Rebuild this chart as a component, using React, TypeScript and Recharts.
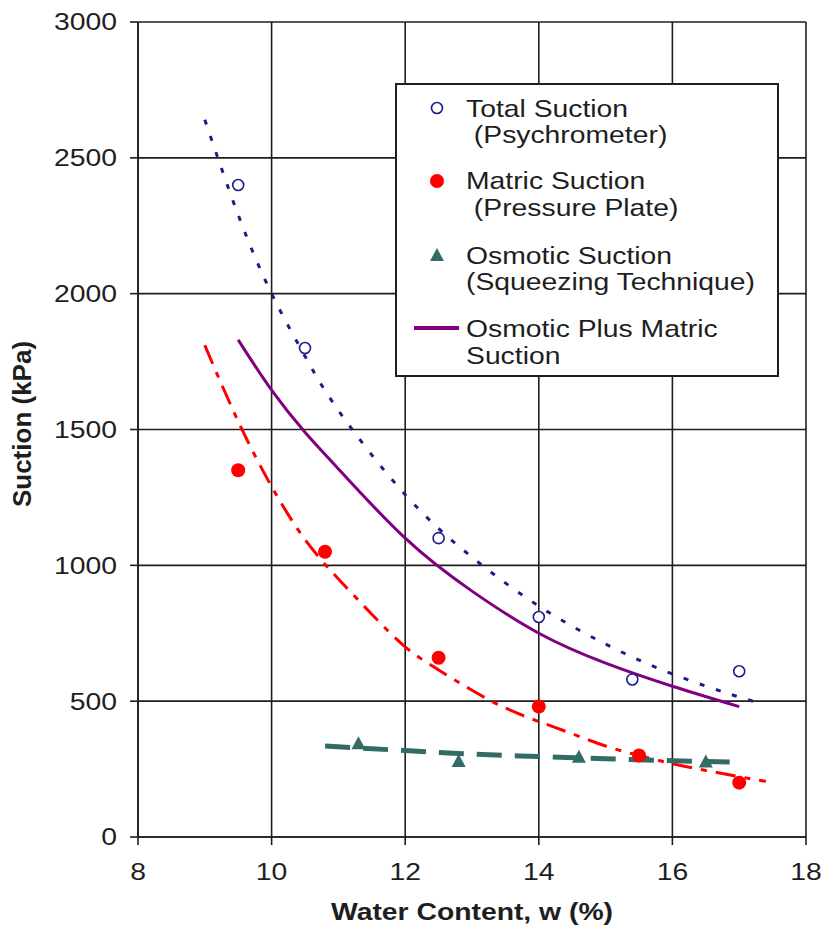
import { CartesianGrid, ComposedChart, Line, Scatter, XAxis, YAxis } from "recharts";

// measured values, water content (%) vs suction (kPa)
const totalW = [9.5, 10.5, 12.5, 14, 15.4, 17];
const totalKPa = [2400, 1800, 1100, 810, 580, 610];

const matricW = [9.5, 10.8, 12.5, 14, 15.5, 17];
const matricKPa = [1350, 1050, 660, 480, 300, 200];

const osmoticW = [11.3, 12.8, 14.6, 16.5];
const osmoticKPa = [345, 280, 295, 278];

// trend curves
const totalFitW = [9.0, 9.5, 10, 10.5, 11, 12, 13, 14, 15, 16, 17, 17.3];
const totalFitKPa = [2640, 2290, 2000, 1770, 1570, 1260, 1030, 850, 710, 600, 515, 495];

const matricFitW = [9.0, 9.5, 10, 10.5, 11, 11.5, 12, 12.5, 13, 13.5, 14, 14.5, 15, 15.5, 16, 16.5, 17, 17.4];
const matricFitKPa = [1810, 1530, 1290, 1095, 950, 820, 700, 615, 540, 475, 425, 380, 335, 300, 270, 245, 222, 205];

const osmoticFitW = [10.8, 12, 13, 14, 15, 16, 16.9];
const osmoticFitKPa = [335, 318, 305, 296, 288, 281, 276];

const combinedW = [9.5, 10, 10.5, 11, 12, 13, 14, 15, 16, 17];
const combinedKPa = [1830, 1645, 1490, 1355, 1100, 905, 750, 640, 555, 480];

const X_TICKS = [8, 10, 12, 14, 16, 18];
const Y_TICKS = [0, 500, 1000, 1500, 2000, 2500, 3000];

const NAVY = "#1c1c8a";
const RED = "#ff0000";
const TEAL = "#336b66";
const PURPLE = "#800080";
const INK = "#1e1e1e";
const FONT = "'Liberation Sans', Arial, sans-serif";
const SX = 1.18; // the source figure's text runs wide

const zip = (xs: number[], ys: number[]) => xs.map((x, i) => ({ x, y: ys[i] }));

function XTick({ x, y, payload }: any) {
  return (
    <text transform={`translate(${x},${y}) scale(${SX},1)`} textAnchor="middle" dy="0.71em" fontSize={24} fontFamily={FONT} fill={INK}>
      {payload.value}
    </text>
  );
}

function YTick({ x, y, payload }: any) {
  return (
    <text transform={`translate(${x},${y}) scale(${SX},1)`} textAnchor="end" dy="0.35em" fontSize={24} fontFamily={FONT} fill={INK}>
      {payload.value}
    </text>
  );
}

function OpenCircle({ cx, cy }: any) {
  return <circle cx={cx} cy={cy} r={5.5} fill="#fff" stroke={NAVY} strokeWidth={1.6} />;
}

function RedDot({ cx, cy }: any) {
  return <circle cx={cx} cy={cy} r={7} fill={RED} />;
}

function Triangle({ cx, cy }: any) {
  return <polygon points={`${cx},${cy - 7} ${cx - 7},${cy + 6} ${cx + 7},${cy + 6}`} fill={TEAL} />;
}

function LegendText({ x, y, children }: { x: number; y: number; children: string }) {
  return (
    <text transform={`translate(${x},${y}) scale(${SX},1)`} fontSize={24} fontFamily={FONT} fill={INK} style={{ whiteSpace: "pre" }}>
      {children}
    </text>
  );
}

export default function App() {
  return (
    <div style={{ position: "absolute", left: 0, top: 0, width: 821, height: 927, background: "#fff" }}>
      <ComposedChart width={821} height={927} margin={{ top: 22, right: 15, left: 0, bottom: 0 }}>
        <CartesianGrid stroke={INK} strokeWidth={1.6} />
        <XAxis
          type="number"
          dataKey="x"
          domain={[8, 18]}
          ticks={X_TICKS}
          allowDataOverflow
          height={90}
          tickSize={8}
          tickMargin={18}
          stroke={INK}
          strokeWidth={1.6}
          tick={<XTick />}
          label={{
            content: () => (
              <text transform={`translate(472,920) scale(${SX},1)`} textAnchor="middle" fontSize={24} fontWeight="bold" fontFamily={FONT} fill={INK}>
                Water Content, w (%)
              </text>
            )
          }}
        />
        <YAxis
          type="number"
          dataKey="y"
          domain={[0, 3000]}
          ticks={Y_TICKS}
          allowDataOverflow
          width={138}
          tickSize={8}
          tickMargin={13}
          stroke={INK}
          strokeWidth={1.6}
          tick={<YTick />}
          label={{
            content: () => (
              <text transform="translate(31,424) rotate(-90)" textAnchor="middle" fontSize={26} fontWeight="bold" fontFamily={FONT} fill={INK}>
                Suction (kPa)
              </text>
            )
          }}
        />
        <Line data={zip(combinedW, combinedKPa)} dataKey="y" type="natural" stroke={PURPLE} strokeWidth={3} dot={false} isAnimationActive={false} />
        <Line data={zip(totalFitW, totalFitKPa)} dataKey="y" type="natural" stroke={NAVY} strokeWidth={3} strokeDasharray="5 12" dot={false} isAnimationActive={false} />
        <Line data={zip(matricFitW, matricFitKPa)} dataKey="y" type="natural" stroke={RED} strokeWidth={3} strokeDasharray="20 9 6 9" dot={false} isAnimationActive={false} />
        <Scatter data={zip(totalW, totalKPa)} dataKey="y" shape={<OpenCircle />} isAnimationActive={false} />
        <Scatter data={zip(matricW, matricKPa)} dataKey="y" shape={<RedDot />} isAnimationActive={false} />
        <Scatter data={zip(osmoticW, osmoticKPa)} dataKey="y" shape={<Triangle />} isAnimationActive={false} />
        <Line data={zip(osmoticFitW, osmoticFitKPa)} dataKey="y" type="natural" stroke={TEAL} strokeWidth={5} strokeDasharray="25 13" dot={false} isAnimationActive={false} />
      </ComposedChart>

      <svg width={821} height={927} style={{ position: "absolute", left: 0, top: 0, pointerEvents: "none" }}>
        <rect x={396} y={84} width={382} height={292} fill="#fff" stroke={INK} strokeWidth={2} />
        <circle cx={437} cy={108} r={5.5} fill="#fff" stroke={NAVY} strokeWidth={1.6} />
        <LegendText x={466} y={117}>Total Suction</LegendText>
        <LegendText x={466} y={143}>{" (Psychrometer)"}</LegendText>
        <circle cx={437} cy={181} r={7} fill={RED} />
        <LegendText x={466} y={189}>Matric Suction</LegendText>
        <LegendText x={466} y={216}>{" (Pressure Plate)"}</LegendText>
        <polygon points="437,248 430,261 444,261" fill={TEAL} />
        <LegendText x={466} y={264}>Osmotic Suction</LegendText>
        <LegendText x={466} y={290}>(Squeezing Technique)</LegendText>
        <line x1={414} y1={328} x2={459} y2={328} stroke={PURPLE} strokeWidth={4} />
        <LegendText x={466} y={337}>Osmotic Plus Matric</LegendText>
        <LegendText x={466} y={364}>Suction</LegendText>
      </svg>
    </div>
  );
}
